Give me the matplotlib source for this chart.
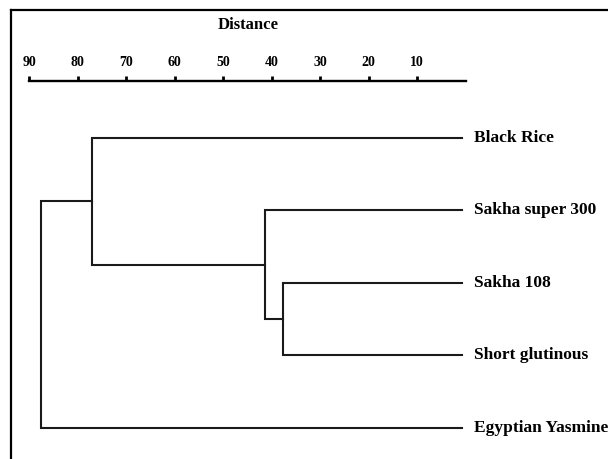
import matplotlib
matplotlib.use("Agg")
import matplotlib.pyplot as plt

# leaves, top to bottom
leaves = ["Black Rice", "Sakha super 300", "Sakha 108", "Short glutinous", "Egyptian Yasmine"]
leaf_end = 0.8   # where the leaf lines stop

# merges: (left node, right node, distance); nodes 0-4 are leaves, 5+ are clusters
merges = [
    (2, 3, 37.7),   # Sakha 108 + Short glutinous
    (1, 5, 41.4),   # Sakha super 300 + above
    (0, 6, 77.1),   # Black Rice + above
    (7, 4, 87.6),   # root with Egyptian Yasmine
]

tick_vals = [90, 80, 70, 60, 50, 40, 30, 20, 10]

plt.rcParams['font.family'] = ['Liberation Serif', 'DejaVu Serif']
plt.rcParams['font.weight'] = 'bold'

fig = plt.figure(figsize=(6.08, 4.59), dpi=100)

# outer frame (only left and top edges are visible in the crop)
frame = fig.add_axes([11 / 608, 0, 1, 1 - 10 / 459])
frame.set_xticks([])
frame.set_yticks([])
for s in ["right", "bottom"]:
    frame.spines[s].set_visible(False)
for s in ["left", "top"]:
    frame.spines[s].set_linewidth(1.6)
frame.patch.set_alpha(0)

ax = fig.add_axes([0, 0, 1, 1 - 81 / 459])
ax.patch.set_alpha(0)
ax.set_xlim(96.04, -29.38)
ax.set_ylim(4.428, -0.786)

# node positions
xpos = {i: leaf_end for i in range(len(leaves))}
ypos = {i: float(i) for i in range(len(leaves))}
lc = "#1a1a1a"
for k, (a, b, h) in enumerate(merges):
    ax.plot([xpos[a], h, h, xpos[b]], [ypos[a], ypos[a], ypos[b], ypos[b]],
            color=lc, lw=1.5, solid_joinstyle="miter")
    node = len(leaves) + k
    xpos[node] = h
    ypos[node] = (ypos[a] + ypos[b]) / 2

for i, name in enumerate(leaves):
    ax.annotate(name, (leaf_end, i), xytext=(9, 0), textcoords="offset points",
                ha="left", va="center", fontsize=12.5, fontweight="bold")

# distance axis along the top
ax.xaxis.tick_top()
ax.xaxis.set_label_position("top")
ax.set_xticks(tick_vals)
ax.set_xticklabels([str(v) for v in tick_vals], fontsize=10, fontweight="bold")
ax.tick_params(axis="x", direction="out", length=3.5, width=2, pad=5.5)
ax.set_yticks([])
for s in ["left", "right", "bottom"]:
    ax.spines[s].set_visible(False)
ax.spines["top"].set_bounds(90, 0)
ax.spines["top"].set_linewidth(1.7)
ax.set_xlabel("Distance", fontsize=12, fontweight="bold")
ax.xaxis.label.set_va("center")
ax.xaxis.set_label_coords(248 / 608, 1 + (81 - 25) / 378, transform=ax.transAxes)

fig.savefig("out.png", dpi=100)
